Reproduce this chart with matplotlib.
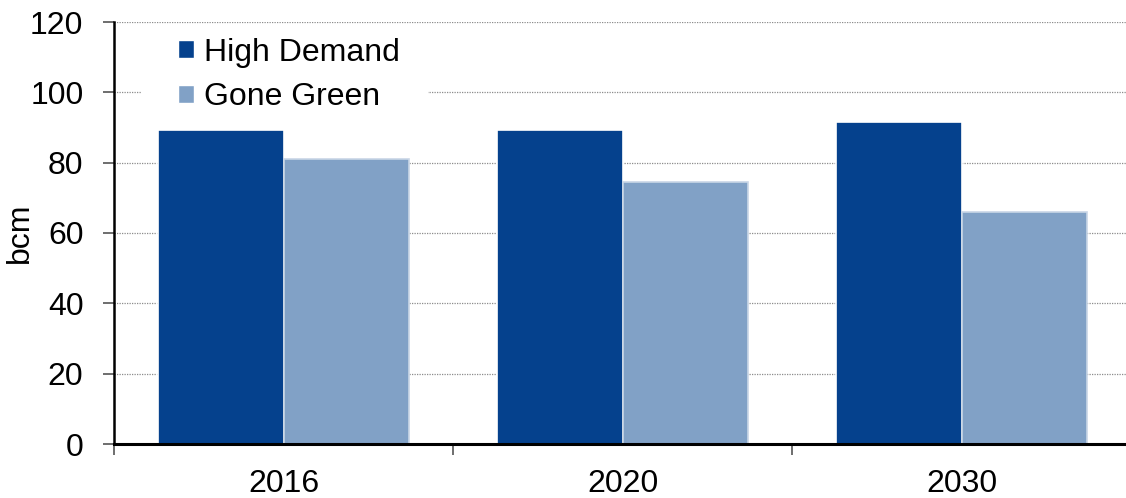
import matplotlib

matplotlib.use("Agg")
import matplotlib.pyplot as plt
import numpy as np
from matplotlib.patches import Patch, Rectangle

years = ["2016", "2020", "2030"]
high_demand = [89.3, 89.2, 91.6]
gone_green = [81.0, 74.5, 65.9]

NAVY = "#05418D"
STEEL = "#81A1C6"

plt.rcParams.update({
    "font.family": ["Liberation Sans", "DejaVu Sans"],
    "font.size": 23,
})

fig = plt.figure(figsize=(11.26, 4.98), dpi=100)
ax = fig.add_axes([114 / 1126, 54 / 498, 1 - 114 / 1126, (444 - 22) / 498])

x = np.arange(len(years))
w = 0.369
ax.bar(x - w / 2, high_demand, width=w, color=NAVY, edgecolor="white",
       linewidth=1.2, zorder=3)
ax.bar(x + w / 2, gone_green, width=w, color=STEEL, edgecolor="#C9D6E6",
       linewidth=1.2, zorder=3)

ax.set_xlim(-0.5, 2.485)
ax.set_ylim(0, 120)
ax.set_yticks(range(0, 121, 20))
ax.set_xticks(x)
ax.set_xticklabels(years)
ax.set_xticks([-0.5, 0.5, 1.5], minor=True)
ax.tick_params(axis="x", which="major", length=0, pad=18)
ax.tick_params(axis="x", which="minor", length=8, width=1.2, color="#555555")
ax.tick_params(axis="y", length=8, width=1.2, color="#555555", pad=14)

ax.set_axisbelow(True)
ax.yaxis.grid(True, linestyle=(0, (1, 1)), linewidth=0.9, color="#8C8C8C")
for side in ("top", "right"):
    ax.spines[side].set_visible(False)
ax.spines["left"].set_linewidth(1.8)
ax.spines["bottom"].set_linewidth(2.2)
ax.spines["bottom"].set_zorder(4)

ax.set_ylabel("bcm")
ax.yaxis.set_label_coords(-0.078, 0.5)

# white box behind the legend, blanking the gridline there
ax.add_patch(Rectangle((0.0267, 0.79), 0.2836, 0.19, transform=ax.transAxes,
                       facecolor="white", edgecolor="none", zorder=1))

handles = [Patch(facecolor=NAVY, edgecolor="white", label="High Demand"),
           Patch(facecolor=STEEL, edgecolor="white", label="Gone Green")]
leg = ax.legend(handles=handles, loc="upper left",
                bbox_to_anchor=(0.0632, 0.963), frameon=False,
                handlelength=0.5, handleheight=0.5, handletextpad=0.3,
                labelspacing=0.45, borderpad=0, borderaxespad=0,
                fontsize=23)
leg.set_zorder(5)

fig.savefig("out.png", dpi=100)
